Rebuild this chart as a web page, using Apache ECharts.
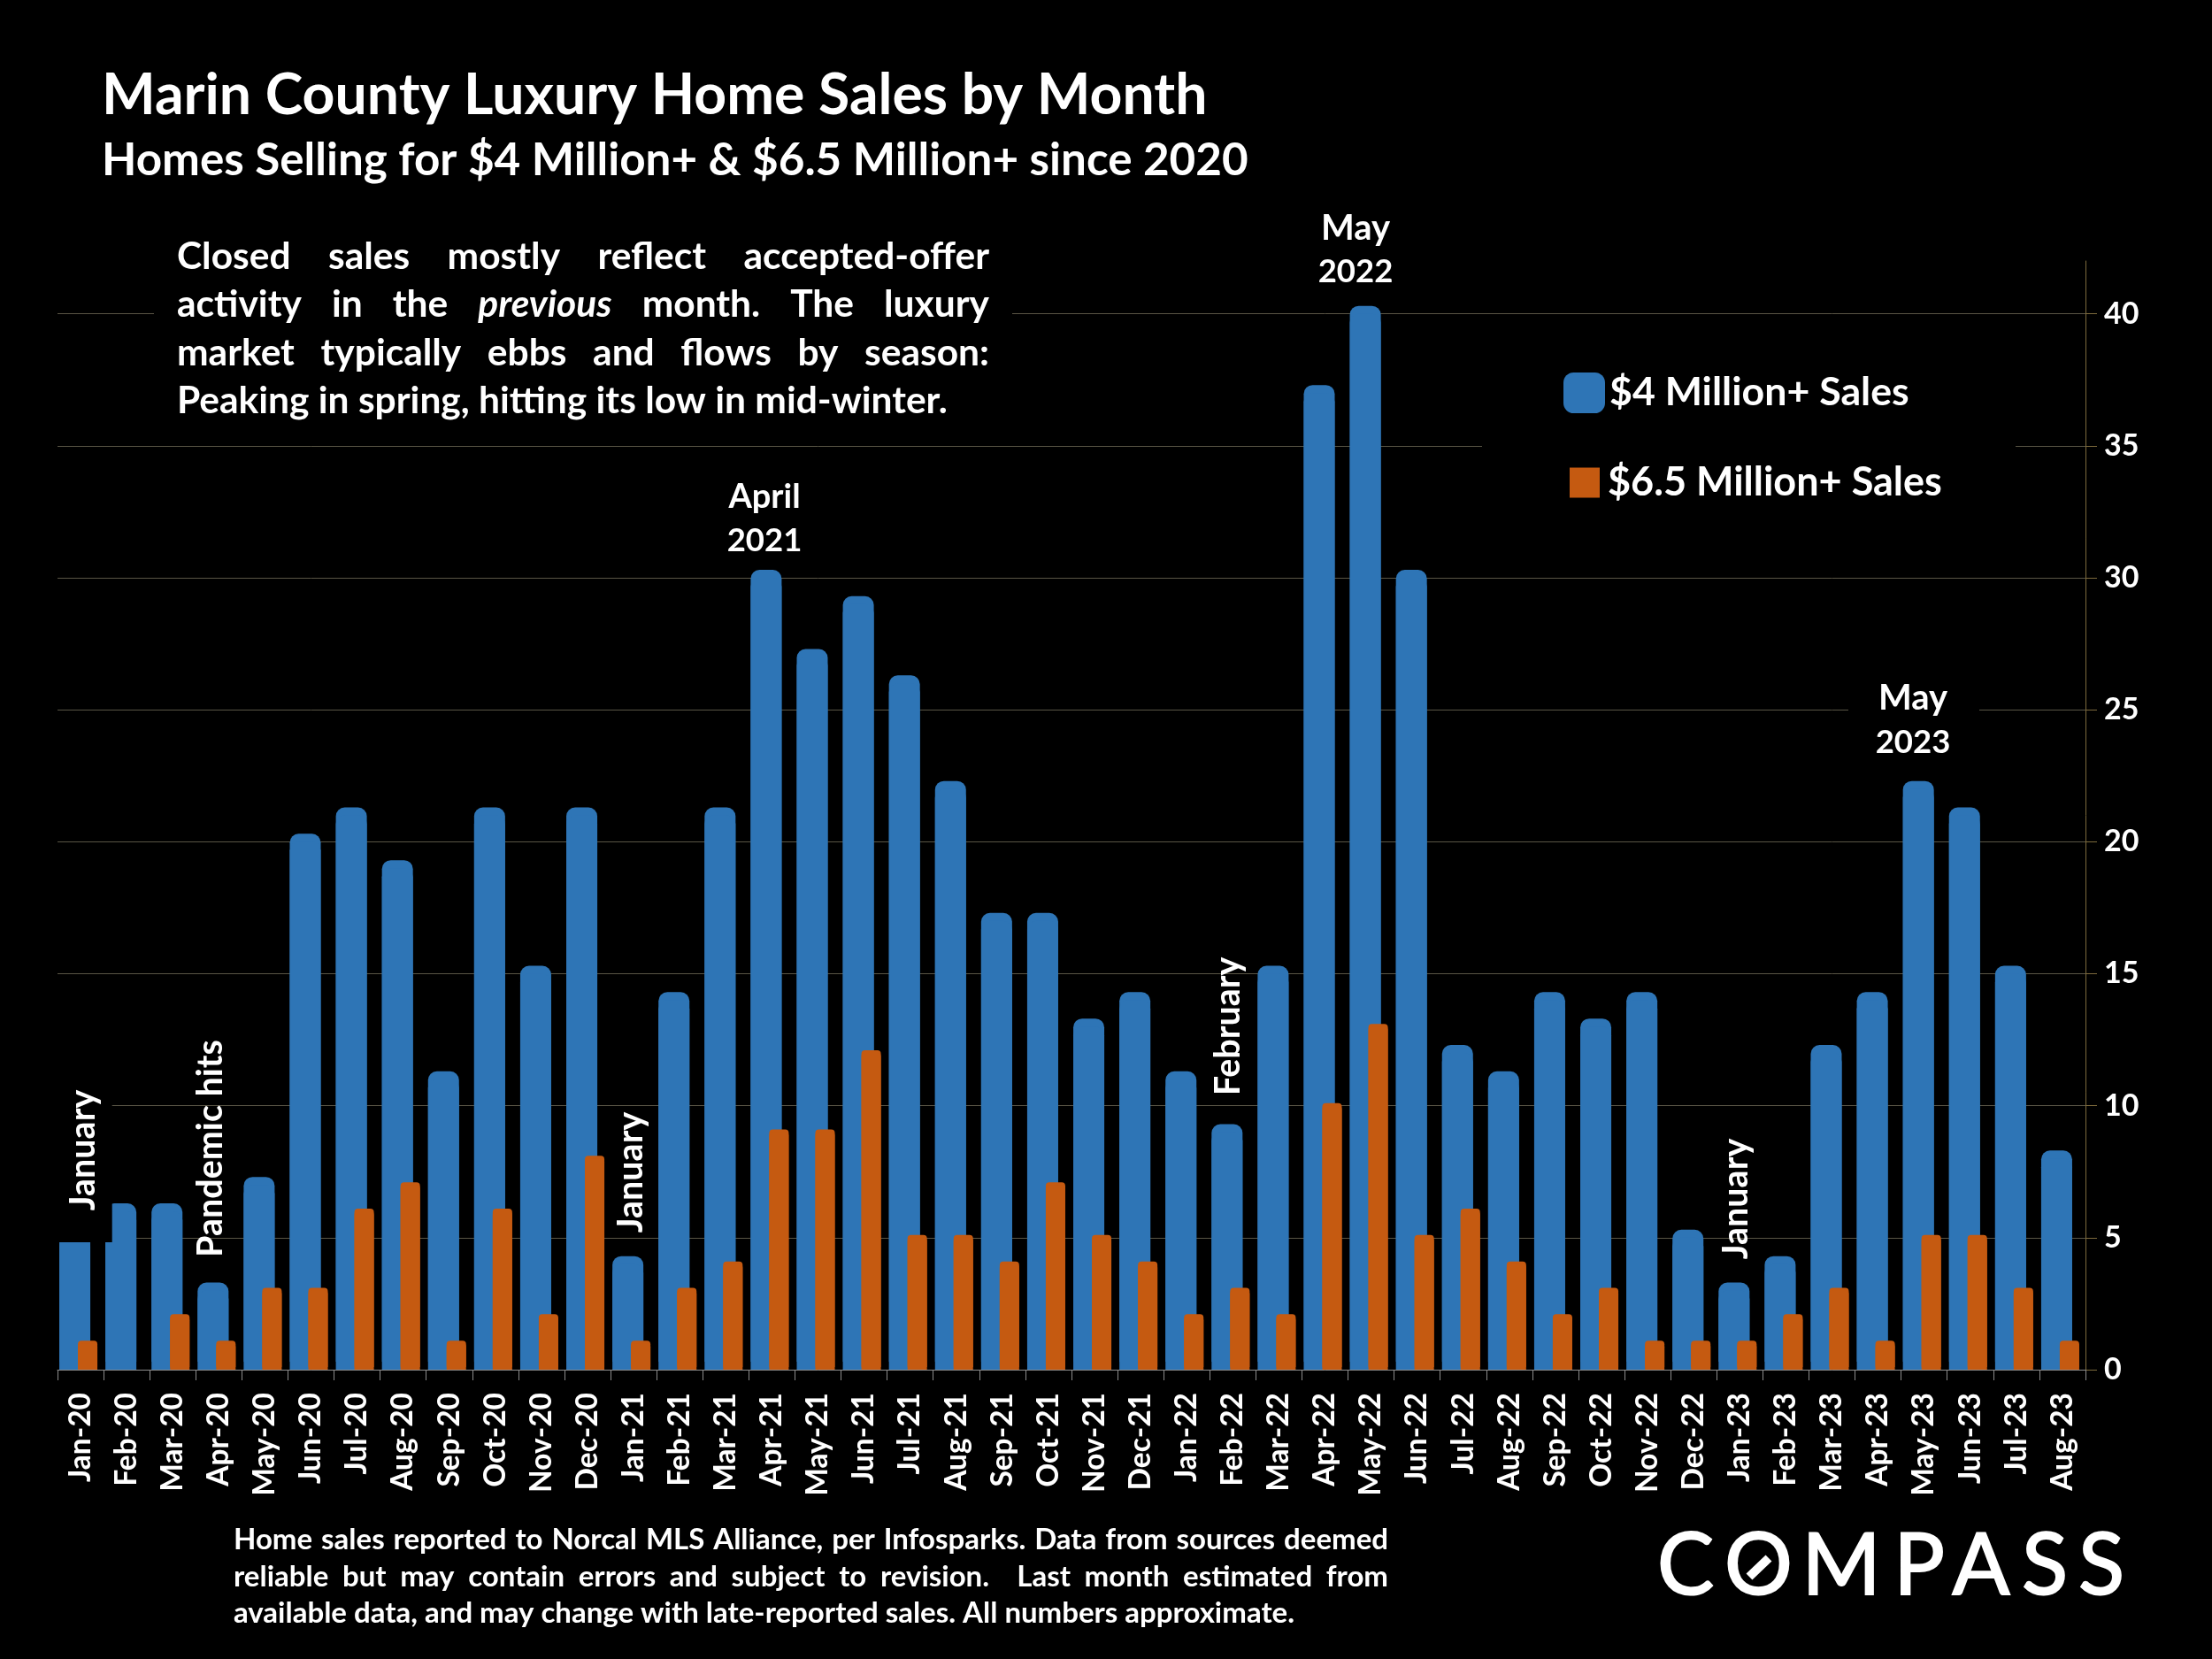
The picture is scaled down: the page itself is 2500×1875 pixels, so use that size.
<!DOCTYPE html>
<html>
<head>
<meta charset="utf-8">
<title>Marin County Luxury Home Sales by Month</title>
<script src="https://cdn.jsdelivr.net/npm/echarts@6/dist/echarts.min.js"></script>
<style>
	html,body{margin:0;padding:0;background:#000;}
	#main{width:2500px;height:1875px;}
</style>
</head>
<body>
<div id="main"></div>
<script>
var months=['Jan-20','Feb-20','Mar-20','Apr-20','May-20','Jun-20','Jul-20','Aug-20','Sep-20','Oct-20','Nov-20','Dec-20',
	'Jan-21','Feb-21','Mar-21','Apr-21','May-21','Jun-21','Jul-21','Aug-21','Sep-21','Oct-21','Nov-21','Dec-21',
	'Jan-22','Feb-22','Mar-22','Apr-22','May-22','Jun-22','Jul-22','Aug-22','Sep-22','Oct-22','Nov-22','Dec-22',
	'Jan-23','Feb-23','Mar-23','Apr-23','May-23','Jun-23','Jul-23','Aug-23'];
var sales4m=[5,6,6,3,7,20,21,19,11,21,15,21,
	4,14,21,30,27,29,26,22,17,17,13,14,
	11,9,15,37,40,30,12,11,14,13,14,5,
	3,4,12,14,22,21,15,8];
var sales65m=[1,0,2,1,3,3,6,7,1,6,2,8,
	1,3,4,9,9,12,5,5,4,7,5,4,
	2,3,2,10,13,5,6,4,2,3,1,1,
	1,2,3,1,5,5,3,1];
var yTicks=[0,5,10,15,20,25,30,35,40];
var name4m='$4 Million+ Sales';
var name65m='$6.5 Million+ Sales';

var titleText='Marin County Luxury Home Sales by Month';
var subtitleText='Homes Selling for $4 Million+ & $6.5 Million+ since 2020';
var noteLines=['Closed sales mostly reflect accepted-offer','activity in the previous month. The luxury','market typically ebbs and flows by season:','Peaking in spring, hitting its low in mid-winter.'];
var footLines=['Home sales reported to Norcal MLS Alliance, per Infosparks. Data from sources deemed','reliable but may contain errors and subject to revision.  Last month estimated from','available data, and may change with late-reported sales. All numbers approximate.'];

var FONT='Lato';
var WHITE='#ffffff';

//一行文字 左右对齐 (最后一行不用)
function justifyLine(line,x0,x1,y,size,list){
	var ctx=document.createElement('canvas').getContext('2d');
	var words=line.split(' ');
	var sum=0;
	var widths=[];
	for(var i=0;i<words.length;i++){
		ctx.font=(words[i]=='previous'?'italic ':'')+'bold '+size+'px '+FONT;
		widths[i]=ctx.measureText(words[i]).width;
		sum+=widths[i];
	}
	var gap=(x1-x0-sum)/(words.length-1);
	var x=x0;
	for(var j=0;j<words.length;j++){
		list.push(textEl(words[j],x,y,size,'left',0,words[j]=='previous'?'italic':'normal'));
		x+=widths[j]+gap;
	}
}

function textEl(str,x,y,size,align,rot,fontStyle,weight){
	return {
		type:'text',
		x:x,
		y:y,
		rotation:rot||0,
		z:20,
		silent:true,
		style:{
			text:str,
			fill:WHITE,
			fontFamily:FONT,
			fontSize:size,
			fontWeight:weight||'bold',
			fontStyle:fontStyle||'normal',
			align:align,
			verticalAlign:'middle'
		}
	};
}

//黑底文本框 盖住网格线
function maskEl(x,y,w,h,z){
	return {type:'rect',z:z,silent:true,shape:{x:x,y:y,width:w,height:h},style:{fill:'#000'}};
}

function buildGraphic(){
	var list=[];
	list.push(maskEl(60,1150,66.7,254,3));      //January 文本框
	list.push(maskEl(174,300,970,180,3));       //说明文字
	list.push(maskEl(1675,420,603,150,3));      //图例
	list.push(maskEl(2089,760,148,100,3));      //May 2023

	list.push(textEl(titleText,115,108,64.3,'left'));
	list.push(textEl(subtitleText,115,181,51.2,'left'));

	var noteY=[290,344,399,453];
	for(var i=0;i<3;i++){
		justifyLine(noteLines[i],200,1118,noteY[i],42.5,list);
	}
	list.push(textEl(noteLines[3],200,noteY[3],42.5,'left'));

	var footY=[1740,1782,1823];
	justifyLine(footLines[0],264,1569,footY[0],33,list);
	justifyLine(footLines[1],264,1569,footY[1],33,list);
	list.push(textEl(footLines[2],264,footY[2],33,'left'));

	var up=Math.PI/2;
	list.push(textEl('January',94,1300,39.5,'center',up));
	list.push(textEl('Pandemic hits',238,1298,39.5,'center',up));
	list.push(textEl('January',713,1325,39.5,'center',up));
	list.push(textEl('February',1388,1160,39.5,'center',up));
	list.push(textEl('January',1962,1355,39.5,'center',up));
	list.push(textEl('April',864,562,38,'center'));
	list.push(textEl('2021',864,611,36.5,'center'));
	list.push(textEl('May',1532,258,40,'center'));
	list.push(textEl('2022',1532,307,36.5,'center'));
	list.push(textEl('May',2162,789,40,'center'));
	list.push(textEl('2023',2162,839,36.5,'center'));

	//COMPASS 标志
	var logo=[['C',1905],['O',1987.5],['M',2081],['P',2169],['A',2239],['S',2311],['S',2375]];
	for(var k=0;k<logo.length;k++){
		var letter=textEl(logo[k][0],logo[k][1],1771,96,'center',0,'normal','normal');
		letter.style.stroke=WHITE;
		letter.style.lineWidth=2;
		list.push(letter);
	}
	list.push({type:'line',z:21,silent:true,shape:{x1:1977,y1:1782,x2:1999,y2:1761},style:{stroke:WHITE,lineWidth:10}});
	return list;
}

function drawChart(){
	var myChart=echarts.init(document.getElementById('main'),null,{renderer:'canvas'});
	var option={
		backgroundColor:'#000',
		animation:false,
		grid:{left:65,right:143,top:295,bottom:327},
		legend:[
			{
				data:[name4m],
				left:1767,top:421,padding:0,
				selectedMode:false,z:10,
				icon:'roundRect',itemWidth:47,itemHeight:46,
				itemStyle:{borderWidth:0,shadowOffsetY:0},
				textStyle:{color:WHITE,fontFamily:FONT,fontWeight:'bold',fontSize:44.7}
			},
			{
				data:[name65m],
				left:1774,top:523,padding:0,
				selectedMode:false,z:10,
				icon:'rect',itemWidth:34,itemHeight:34,
				itemStyle:{borderWidth:0,shadowOffsetY:0},
				textStyle:{color:WHITE,fontFamily:FONT,fontWeight:'bold',fontSize:45,padding:[0,0,6,4],lineHeight:34}
			}
		],
		xAxis:{
			type:'category',
			data:months,
			z:10,
			axisLine:{lineStyle:{color:'#8c8c8c',width:1}},
			axisTick:{show:true,length:12,lineStyle:{color:'#8c8c8c',width:1}},
			axisLabel:{interval:0,rotate:90,margin:26,color:WHITE,fontFamily:FONT,fontWeight:'bold',fontSize:33.5}
		},
		yAxis:{
			type:'value',
			position:'right',
			min:0,max:42,interval:5,
			axisLine:{show:true,lineStyle:{color:'#7d6a3c',width:1}},
			axisTick:{show:true,length:13,customValues:yTicks,lineStyle:{color:'#7d6a3c',width:1}},
			axisLabel:{customValues:yTicks,margin:21,color:WHITE,fontFamily:FONT,fontWeight:'bold',fontSize:34},
			splitLine:{show:true,lineStyle:{color:'#595545',width:1}}
		},
		series:[
			{
				name:name4m,
				type:'bar',
				data:sales4m,
				barWidth:35,
				barGap:'-40%',
				//原图柱子有同色描边 顶部比数值高一点 用无模糊阴影上移来做
				itemStyle:{color:'#2E75B6',borderRadius:[10,10,0,0],shadowColor:'#2E75B6',shadowBlur:0,shadowOffsetY:-9}
			},
			{
				name:name65m,
				type:'bar',
				//0 不画柱子
				data:sales65m.map(function(v){return v==0?null:v;}),
				barWidth:22,
				itemStyle:{color:'#C55A11',borderRadius:[4,4,0,0],shadowColor:'#C55A11',shadowBlur:0,shadowOffsetY:-3}
			},
			{
				//空系列 只占位 让前两组柱子左移
				name:'spacer',
				type:'bar',
				data:[],
				barWidth:13.8
			}
		],
		graphic:{elements:buildGraphic()}
	};
	myChart.setOption(option);
}

drawChart();
</script>
</body>
</html>
